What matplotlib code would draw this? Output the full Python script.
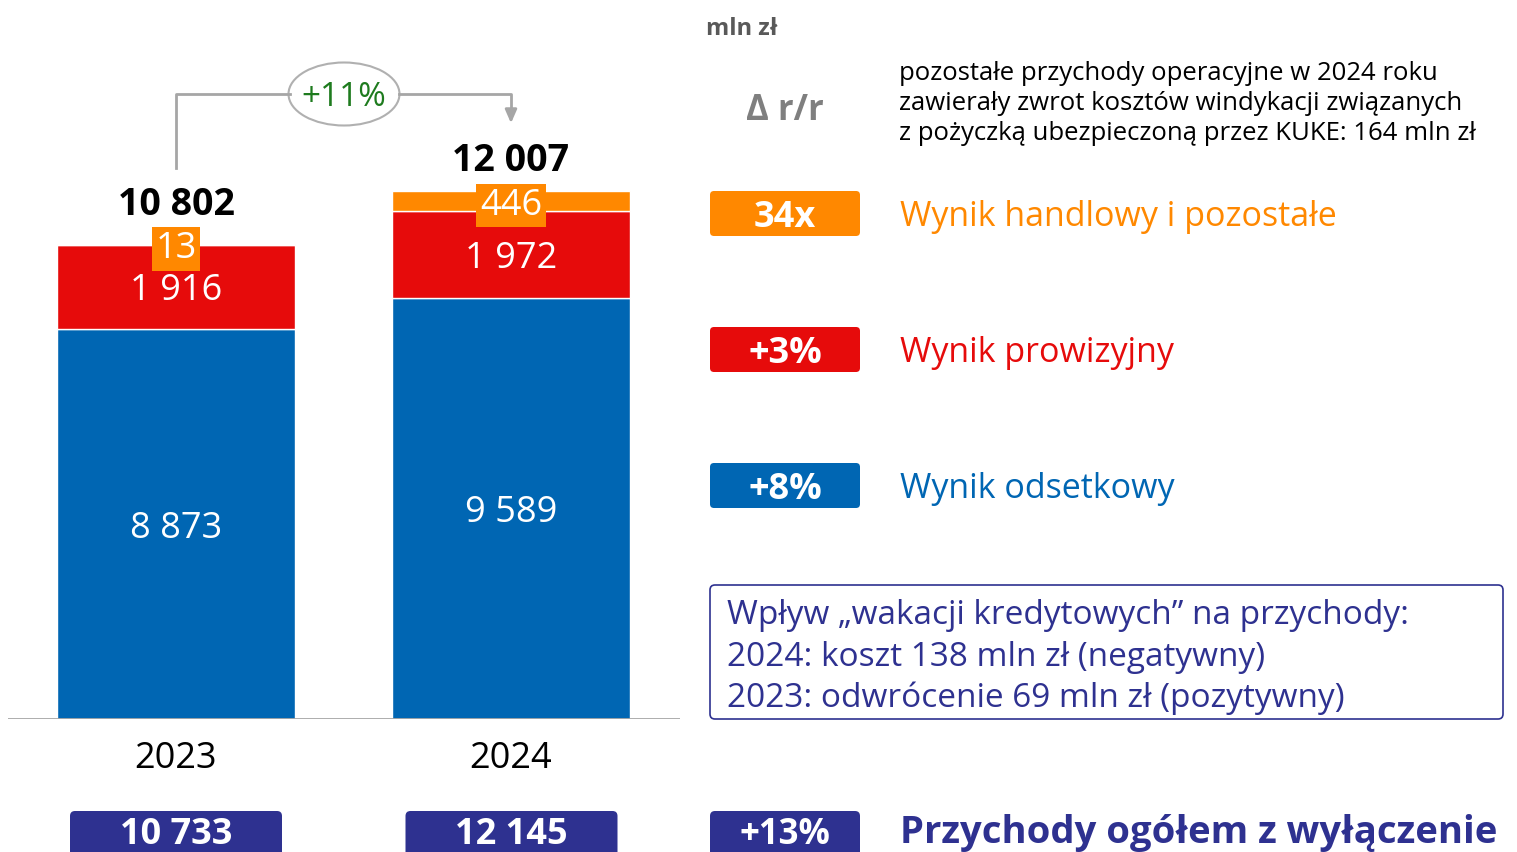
import matplotlib.pyplot as plt
from matplotlib.patches import FancyBboxPatch, Ellipse
import numpy as np

# data (mln zł)
years = ['2023', '2024']
odsetkowy = [8873, 9589]
prowizyjny = [1916, 1972]
handlowy = [13, 446]
totals = ['10 802', '12 007']
seg_labels = [['8 873', '9 589'], ['1 916', '1 972'], ['13', '446']]
adj_totals = ['10 733', '12 145']
growth = '+11%'
badges = ['34x', '+3%', '+8%']
legend_names = ['Wynik handlowy i pozostałe', 'Wynik prowizyjny', 'Wynik odsetkowy']
note = ['pozostałe przychody operacyjne w 2024 roku',
        'zawierały zwrot kosztów windykacji związanych',
        'z pożyczką ubezpieczoną przez KUKE: 164 mln zł']
box_lines = ['Wpływ \u201ewakacji kredytowych\u201d na przychody:',
             '2024: koszt 138 mln zł (negatywny)',
             '2023: odwrócenie 69 mln zł (pozytywny)']
total_badge = '+13%'
total_name = 'Przychody ogółem z wyłączenie'

BLUE = '#0066b3'
RED = '#e60b0b'
ORANGE = '#ff8800'
NAVY = '#2e3190'
GRAY = '#a6a6a6'

plt.rcParams['font.family'] = ['Open Sans', 'DejaVu Sans']

W, H = 1517, 852
fig = plt.figure(figsize=(W / 100, H / 100), dpi=100)

# bar axes: baseline at pixel 719, x from 8 to 680
ax = fig.add_axes([8 / W, (H - 719) / H, 672 / W, 719 / H])
ax.set_xlim(-0.5015, 1.5045)
ax.set_ylim(0, 719 / 0.04395)
ax.axis('off')

x = np.arange(len(years))
bw = 0.71
b1 = np.array(odsetkowy)
b2 = b1 + np.array(prowizyjny)
ax.bar(x, odsetkowy, bw, color=BLUE, edgecolor='white', linewidth=1)
ax.bar(x, prowizyjny, bw, bottom=b1, color=RED, edgecolor='white', linewidth=1)
ax.bar(x, handlowy, bw, bottom=b2, color=ORANGE, edgecolor='white', linewidth=1)
ax.axhline(0, color=GRAY, lw=2)

total_off = [21, 14.5]
for i in x:
    ax.text(i, odsetkowy[i] / 2, seg_labels[0][i], color='white', fontsize=26,
            ha='center', va='center_baseline')
    ax.text(i, b1[i] + prowizyjny[i] / 2, seg_labels[1][i], color='white', fontsize=26,
            ha='center', va='center_baseline')
    ax.text(i, b2[i] + handlowy[i] / 2, seg_labels[2][i], color='white', fontsize=26,
            ha='center', va='center_baseline',
            bbox=dict(boxstyle='square,pad=0.1', fc=ORANGE, ec='none'))
    top = b2[i] + handlowy[i]
    ax.annotate(totals[i], (i, top), xytext=(0, total_off[i]),
                textcoords='offset points', ha='center', va='baseline',
                fontsize=27, fontweight='bold', color='black')
    ax.text(i, -36 / 0.04395, years[i], ha='center', va='center_baseline', fontsize=26,
            color='black')

# overlay axes in pixel coords
ov = fig.add_axes([0, 0, 1, 1])
ov.set_xlim(0, W)
ov.set_ylim(H, 0)
ov.axis('off')

# growth arrow
ov.plot([176, 176, 290], [168, 94, 94], color=GRAY, lw=2)
ov.plot([399, 511, 511], [94, 94, 112], color=GRAY, lw=2)
ov.annotate('', xy=(511, 126), xytext=(511, 108),
            arrowprops=dict(arrowstyle='-|>,head_width=0.35,head_length=0.8',
                            color=GRAY, lw=2))
ov.add_patch(Ellipse((344, 94), 111, 63, fc='white', ec='#b0b0b0', lw=1.5))
ov.text(344, 94, growth, ha='center', va='center_baseline', fontsize=24, color='#1e7b1e')

# header texts
ov.text(706, 26, 'mln zł', ha='left', va='center_baseline', fontsize=17, fontweight='bold',
        color='#595959')
ov.text(785, 106, '\u0394 r/r', ha='center', va='center_baseline', fontsize=25,
        fontweight='bold', color='#7f7f7f')
for k, line in enumerate(note):
    ov.text(899, 70 + 30.5 * k, line, ha='left', va='center_baseline', fontsize=18.5,
            color='black')

# legend badges
badge_colors = [ORANGE, RED, BLUE]
for k, (lab, name, c) in enumerate(zip(badges, legend_names, badge_colors)):
    yc = 213.5 + 136 * k
    ov.add_patch(FancyBboxPatch((710, yc - 22.5), 150, 45,
                                boxstyle='round,pad=0,rounding_size=4', fc=c, ec='none'))
    ov.text(785, yc, lab, ha='center', va='center_baseline', fontsize=26, fontweight='bold',
            color='white')
    ov.text(900, yc, name, ha='left', va='center_baseline', fontsize=24.5, color=c)

# info box
ov.add_patch(FancyBboxPatch((710, 585), 793, 134, boxstyle='round,pad=0,rounding_size=5',
                            fc='white', ec=NAVY, lw=1.2))
for k, line in enumerate(box_lines):
    ov.text(727, 612 + 41 * k, line, ha='left', va='center_baseline', fontsize=24,
            color=NAVY)

# bottom badges
for cx, lab in zip([176, 511.5], adj_totals):
    ov.add_patch(FancyBboxPatch((cx - 106, 811), 212, 70,
                                boxstyle='round,pad=0,rounding_size=5', fc=NAVY, ec='none'))
    ov.text(cx, 830, lab, ha='center', va='center_baseline', fontsize=26, fontweight='bold',
            color='white')
ov.add_patch(FancyBboxPatch((710, 811), 150, 70, boxstyle='round,pad=0,rounding_size=5',
                            fc=NAVY, ec='none'))
ov.text(785, 830, total_badge, ha='center', va='center_baseline', fontsize=25,
        fontweight='bold', color='white')
ov.text(900, 828, total_name, ha='left', va='center_baseline', fontsize=27.5,
        fontweight='bold', color=NAVY)

fig.savefig('out.png', dpi=100)
